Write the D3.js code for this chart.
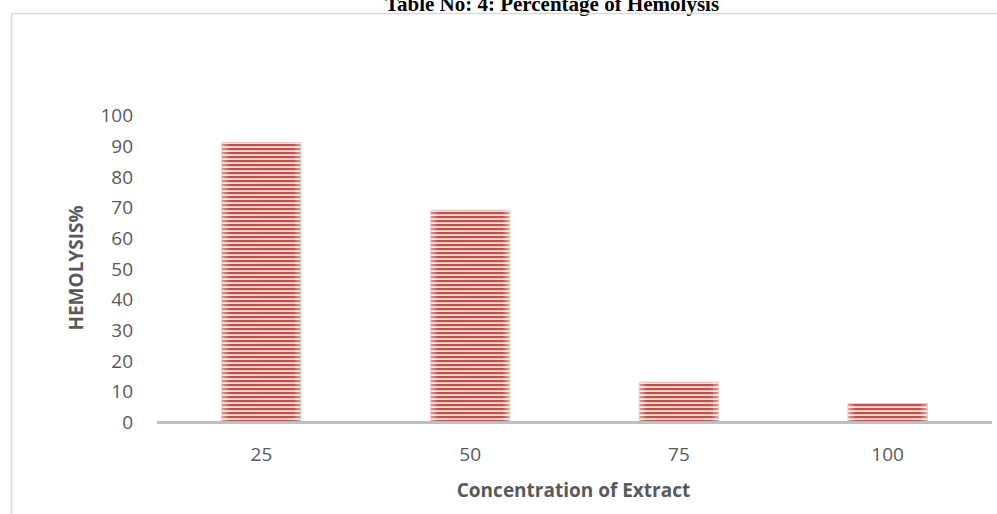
<!DOCTYPE html>
<html>
<head>
<meta charset="utf-8">
<script src="https://cdn.jsdelivr.net/npm/d3@7"></script>
<style>
	html, body { margin: 0; padding: 0; background: #fff; overflow: hidden; }
	.tick-label { font-family: "Open Sans", sans-serif; font-size: 19px; fill: #595959; }
	.axis-title { font-family: "Open Sans", sans-serif; font-size: 19px; font-weight: bold; fill: #595959; }
</style>
</head>
<body>
<div id="chart"></div>
<script>
// values
var concentrations = ["25", "50", "75", "100"];
var hemolysis = [91, 69, 13, 6];
var yTicks = [0, 10, 20, 30, 40, 50, 60, 70, 80, 90, 100];

var width = 997, height = 514;
var plot = { left: 157, right: 992, top: 115, bottom: 422 };

var svg = d3.select("#chart")
	.append("svg")
	.attr("width", width)
	.attr("height", height);

var defs = svg.append("defs");
// striped fill of the bars
var stripes = defs.append("pattern")
	.attr("id", "stripes")
	.attr("patternUnits", "userSpaceOnUse")
	.attr("width", 8)
	.attr("height", 4);
stripes.append("rect")
	.attr("width", 8).attr("height", 4)
	.attr("fill", "#f2dcdb");
stripes.append("rect")
	.attr("width", 8).attr("height", 2.2)
	.attr("fill", "#c0504d");
// lighter edges on the bars
var shade = defs.append("linearGradient")
	.attr("id", "shade")
	.attr("x1", "0%").attr("y1", "0%")
	.attr("x2", "100%").attr("y2", "0%");
shade.append("stop").attr("offset", "0%").attr("stop-color", "#fff").attr("stop-opacity", 0.45);
shade.append("stop").attr("offset", "10%").attr("stop-color", "#fff").attr("stop-opacity", 0);
shade.append("stop").attr("offset", "90%").attr("stop-color", "#fff").attr("stop-opacity", 0);
shade.append("stop").attr("offset", "100%").attr("stop-color", "#fff").attr("stop-opacity", 0.45);

// title, partly cut off at the top of the page
svg.append("text")
	.attr("x", 552)
	.attr("y", 11)
	.attr("text-anchor", "middle")
	.style("font-family", "'Liberation Serif', 'Times New Roman', serif")
	.style("font-size", "21px")
	.style("font-weight", "bold")
	.style("fill", "#000")
	.text("Table No: 4: Percentage of Hemolysis");

// chart frame, running off the right and bottom
svg.append("rect")
	.attr("x", 11.5)
	.attr("y", 13.5)
	.attr("width", 1000)
	.attr("height", 520)
	.attr("fill", "none")
	.attr("stroke", "#d9d9d9")
	.attr("stroke-width", 1.5);

var x = d3.scaleBand()
	.domain(concentrations)
	.range([plot.left, plot.right])
	.paddingInner(0.62)
	.paddingOuter(0.31);

var y = d3.scaleLinear()
	.domain([0, 100])
	.range([plot.bottom, plot.top]);

// bars
var bars = svg.append("g").attr("class", "bars");
concentrations.forEach(function(c, i) {
	bars.append("rect")
		.attr("x", x(c))
		.attr("y", y(hemolysis[i]))
		.attr("width", x.bandwidth())
		.attr("height", y(0) - y(hemolysis[i]))
		.attr("fill", "url(#stripes)")
		.attr("stroke", "#e6b9b8")
		.attr("stroke-width", 0.8);
	bars.append("rect")
		.attr("x", x(c))
		.attr("y", y(hemolysis[i]))
		.attr("width", x.bandwidth())
		.attr("height", y(0) - y(hemolysis[i]))
		.attr("fill", "url(#shade)");
});

// y axis labels (no line, no ticks)
var yAxis = svg.append("g")
	.attr("transform", "translate(" + 133 + ",0)")
	.call(d3.axisLeft(y).tickValues(yTicks).tickSize(0).tickPadding(0));
yAxis.select(".domain").remove();
yAxis.selectAll("text")
	.attr("class", "tick-label")
	.attr("font-family", null)
	.attr("font-size", null)
	.attr("dy", "0.35em");

// x axis with thick grey base line
var xAxis = svg.append("g")
	.attr("transform", "translate(0," + plot.bottom + ")")
	.call(d3.axisBottom(x).tickSize(0).tickPadding(0));
xAxis.select(".domain")
	.attr("d", "M" + plot.left + ",0.5H" + plot.right)
	.attr("stroke", "#bfbfbf")
	.attr("stroke-width", 3);
xAxis.selectAll("text")
	.attr("class", "tick-label")
	.attr("font-family", null)
	.attr("font-size", null)
	.attr("y", 32)
	.attr("dy", "0.35em");

// axis titles
svg.append("text")
	.attr("class", "axis-title")
	.attr("x", (plot.left + plot.right) / 2 - 1)
	.attr("y", 497)
	.attr("text-anchor", "middle")
	.text("Concentration of Extract");

svg.append("text")
	.attr("class", "axis-title")
	.attr("transform", "translate(83,268) rotate(-90)")
	.attr("text-anchor", "middle")
	.text("HEMOLYSIS%");
</script>
</body>
</html>
